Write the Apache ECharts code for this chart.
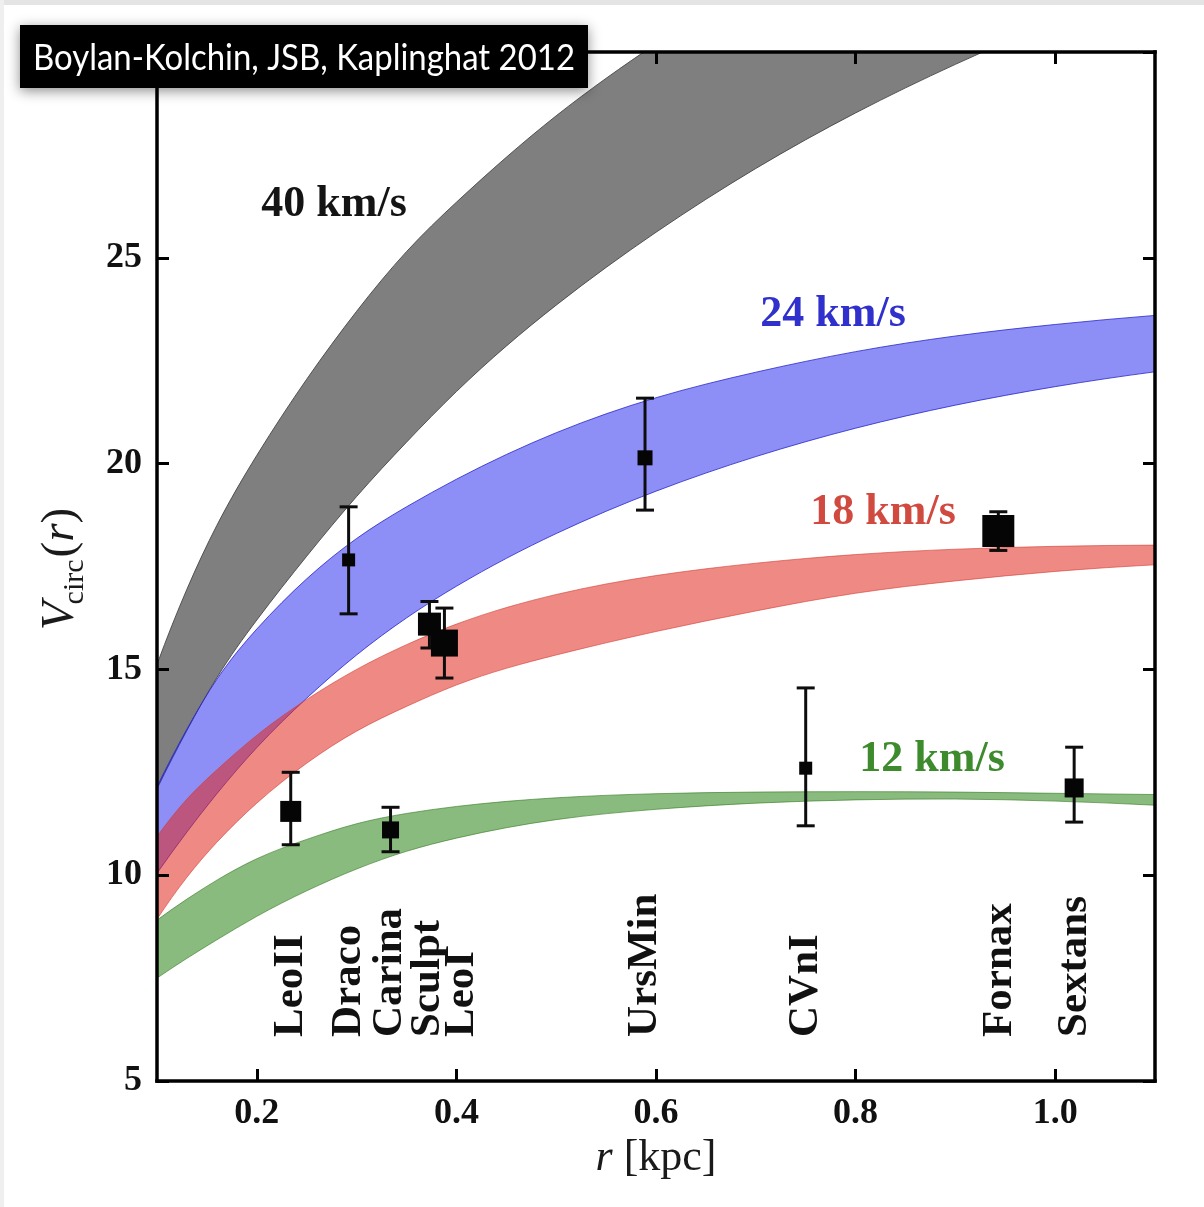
<!DOCTYPE html>
<html>
<head>
<meta charset="utf-8">
<script src="https://cdn.jsdelivr.net/npm/echarts@6/dist/echarts.min.js"></script>
<style>
html, body { margin: 0; padding: 0; background: #ffffff; }
#main { width: 1204px; height: 1207px; }
</style>
</head>
<body>
<div id="main"></div>
<script>
// ---------------------------------------------------------------
// Data
// ---------------------------------------------------------------
// Radii (kpc) at which the edges of each circular-velocity band are given
const radii = [0.10, 0.13, 0.16, 0.20, 0.25, 0.30, 0.35, 0.40, 0.50, 0.60, 0.70, 0.80, 0.90, 1.00, 1.10];

// V_max = 40 km/s band (km/s)
const band40Upper = [15.12, 16.95, 18.5, 20.2, 22.05, 23.7, 25.15, 26.35, 28.45, 30.2, 31.75, 33.1, 34.25, 35.25, 36.15];
const band40Lower = [12.1, 13.52, 14.8, 16.2, 17.75, 19.2, 20.52, 21.75, 23.85, 25.62, 27.17, 28.52, 29.7, 30.75, 31.7];

// V_max = 24 km/s band
const band24Upper = [12.15, 13.55, 14.76, 15.98, 17.2, 18.18, 18.95, 19.62, 20.75, 21.6, 22.22, 22.72, 23.1, 23.38, 23.6];
const band24Lower = [10.05, 11.05, 11.98, 13.1, 14.3, 15.35, 16.25, 17.02, 18.3, 19.33, 20.17, 20.86, 21.42, 21.87, 22.23];

// V_max = 18 km/s band
const band18Upper = [10.94, 11.85, 12.56, 13.4, 14.27, 15.0, 15.6, 16.1, 16.82, 17.28, 17.58, 17.79, 17.92, 17.99, 18.02];
const band18Lower = [8.93, 9.95, 10.8, 11.75, 12.72, 13.5, 14.1, 14.62, 15.35, 15.92, 16.42, 16.85, 17.15, 17.38, 17.54];

// V_max = 12 km/s band
const band12Upper = [8.91, 9.42, 9.88, 10.4, 10.87, 11.25, 11.5, 11.67, 11.88, 11.98, 12.02, 12.03, 12.02, 11.99, 11.96];
const band12Lower = [7.5, 7.98, 8.43, 9.0, 9.62, 10.15, 10.58, 10.9, 11.35, 11.6, 11.75, 11.83, 11.85, 11.8, 11.7];

const bandNames = ['40 km/s', '24 km/s', '18 km/s', '12 km/s'];

// Milky Way dwarf spheroidals: half-light radius (kpc), V_circ and its range (km/s)
const dwarfNames = ['LeoII', 'Draco', 'Carina', 'Sculpt', 'LeoI', 'UrsMin', 'CVnI', 'Fornax', 'Sextans'];
const dwarfR     = [0.234, 0.292, 0.334, 0.373, 0.388, 0.589, 0.750, 0.943, 1.019];
const dwarfV     = [11.55, 17.66, 11.10, 16.10, 15.64, 20.14, 12.60, 18.36, 12.12];
const dwarfLow   = [10.74, 16.35, 10.57, 15.52, 14.79, 18.87, 11.20, 17.89, 11.29];
const dwarfHigh  = [12.50, 18.95, 11.65, 16.65, 16.49, 21.59, 14.55, 18.83, 13.11];

// Tick values
const xTickValues = [0.2, 0.4, 0.6, 0.8, 1.0];
const yTickValues = [5, 10, 15, 20, 25];

// ---------------------------------------------------------------
// Layout and style
// ---------------------------------------------------------------
const SERIF = "'Liberation Serif', 'Times New Roman', 'DejaVu Serif', serif";

const bandStyles = [
  { fill: 'rgba(0,0,0,0.5)',       edge: 'rgba(70,70,70,0.9)' },
  { fill: 'rgba(30,30,240,0.5)',   edge: 'rgba(40,40,200,0.8)' },
  { fill: 'rgba(225,40,30,0.55)',  edge: 'rgba(210,60,50,0.6)' },
  { fill: 'rgba(40,130,20,0.55)',  edge: 'rgba(50,120,30,0.6)' }
];
const bandEdges = [
  [band40Upper, band40Lower],
  [band24Upper, band24Lower],
  [band18Upper, band18Lower],
  [band12Upper, band12Lower]
];
// Where each band's annotation is centred (data coordinates) and its colour
const bandNoteAt = [[0.2774, 26.28], [0.7774, 23.63], [0.8275, 18.82], [0.8766, 12.80]];
const bandNoteColor = ['#141414', '#3030cc', '#d04a40', '#3d8b2d'];

// Marker edge lengths (px) of the data squares
const squareSize = [21, 13, 17, 23, 27, 15, 13, 32, 19];
// Name labels: horizontal anchor (kpc) and the V level where the text starts
const nameAt = [0.2343, 0.2924, 0.3335, 0.3715, 0.4056, 0.589, 0.7503, 0.9447, 1.0198];
const nameBaseV = 6.07;

// ---------------------------------------------------------------
// Helpers
// ---------------------------------------------------------------
// Cubic spline (continuous curvature) through pixel points, written as Bezier segments
function curveThrough(pts) {
  const n = pts.length;
  const h = [], d = [];
  for (let i = 0; i < n - 1; i++) {
    h.push(pts[i + 1][0] - pts[i][0]);
    d.push((pts[i + 1][1] - pts[i][1]) / h[i]);
  }
  const m = new Array(n);
  m[0] = ((2 * h[0] + h[1]) * d[0] - h[0] * d[1]) / (h[0] + h[1]);
  m[n - 1] = ((2 * h[n - 2] + h[n - 3]) * d[n - 2] - h[n - 2] * d[n - 3]) / (h[n - 2] + h[n - 3]);
  const a = [], b = [], c = [], r = [];
  for (let i = 1; i < n - 1; i++) {
    a[i] = h[i];
    b[i] = 2 * (h[i - 1] + h[i]);
    c[i] = h[i - 1];
    r[i] = 3 * (h[i] * d[i - 1] + h[i - 1] * d[i]);
  }
  r[1] -= a[1] * m[0];
  r[n - 2] -= c[n - 2] * m[n - 1];
  for (let i = 2; i < n - 1; i++) {
    const w = a[i] / b[i - 1];
    b[i] -= w * c[i - 1];
    r[i] -= w * r[i - 1];
  }
  m[n - 2] = r[n - 2] / b[n - 2];
  for (let i = n - 3; i >= 1; i--) m[i] = (r[i] - c[i] * m[i + 1]) / b[i];

  let s = '';
  for (let i = 0; i < n - 1; i++) {
    const t = h[i] / 3;
    const c1x = pts[i][0] + t, c1y = pts[i][1] + m[i] * t;
    const c2x = pts[i + 1][0] - t, c2y = pts[i + 1][1] - m[i + 1] * t;
    s += ' C' + c1x.toFixed(2) + ' ' + c1y.toFixed(2) + ' ' + c2x.toFixed(2) + ' ' + c2y.toFixed(2) +
         ' ' + pts[i + 1][0].toFixed(2) + ' ' + pts[i + 1][1].toFixed(2);
  }
  return s;
}

// ---------------------------------------------------------------
// Series
// ---------------------------------------------------------------
const series = [];

// Shaded V_max bands: region between the upper and lower edge curves
series.push({
  type: 'custom',
  name: 'bands',
  clip: true,
  silent: true,
  z: 2,
  data: bandNames.map(function (n, k) { return [radii[0], bandEdges[k][1][0]]; }),
  renderItem: function (params, api) {
    const k = params.dataIndex;
    const up = radii.map(function (r, i) { return api.coord([r, bandEdges[k][0][i]]); });
    const lo = radii.map(function (r, i) { return api.coord([r, bandEdges[k][1][i]]); }).reverse();
    const d = 'M' + up[0][0].toFixed(2) + ' ' + up[0][1].toFixed(2) + curveThrough(up) +
              ' L' + lo[0][0].toFixed(2) + ' ' + lo[0][1].toFixed(2) + curveThrough(lo) + ' Z';
    return {
      type: 'path',
      shape: { pathData: d },
      style: { fill: bandStyles[k].fill, stroke: bandStyles[k].edge, lineWidth: 1 }
    };
  }
});

// Error bars
series.push({
  type: 'custom',
  name: 'range',
  data: dwarfR.map(function (r, i) { return [r, dwarfLow[i], dwarfHigh[i]]; }),
  encode: { x: 0, y: [1, 2] },
  z: 5,
  silent: true,
  renderItem: function (params, api) {
    const x = api.value(0);
    const lo = api.coord([x, api.value(1)]);
    const hi = api.coord([x, api.value(2)]);
    const cap = 9;
    const s = { stroke: '#0d0d0d', lineWidth: 3 };
    return {
      type: 'group',
      children: [
        { type: 'line', shape: { x1: lo[0], y1: lo[1], x2: hi[0], y2: hi[1] }, style: s },
        { type: 'line', shape: { x1: lo[0] - cap, y1: lo[1], x2: lo[0] + cap, y2: lo[1] }, style: s },
        { type: 'line', shape: { x1: hi[0] - cap, y1: hi[1], x2: hi[0] + cap, y2: hi[1] }, style: s }
      ]
    };
  }
});

// Data squares
series.push({
  type: 'scatter',
  name: 'dwarfs',
  data: dwarfR.map(function (r, i) { return [r, dwarfV[i]]; }),
  symbol: 'rect',
  symbolSize: function (val, p) { return squareSize[p.dataIndex]; },
  itemStyle: { color: '#050505', opacity: 1 },
  silent: true,
  z: 6
});

// Dwarf names, written vertically
series.push({
  type: 'custom',
  name: 'names',
  data: dwarfNames.map(function (n, i) { return [nameAt[i], nameBaseV]; }),
  z: 6,
  silent: true,
  renderItem: function (params, api) {
    const p = api.coord([api.value(0), api.value(1)]);
    return {
      type: 'text',
      x: p[0],
      y: p[1],
      rotation: Math.PI / 2,
      style: {
        text: dwarfNames[params.dataIndex],
        font: 'bold 43px ' + SERIF,
        fill: '#111111',
        align: 'left',
        verticalAlign: 'middle'
      }
    };
  }
});

// Band annotations
series.push({
  type: 'custom',
  name: 'band notes',
  data: bandNoteAt.map(function (a) { return [a[0], a[1]]; }),
  z: 6,
  silent: true,
  renderItem: function (params, api) {
    const p = api.coord([api.value(0), api.value(1)]);
    return {
      type: 'text',
      x: p[0],
      y: p[1],
      style: {
        text: bandNames[params.dataIndex],
        font: 'bold 44px ' + SERIF,
        fill: bandNoteColor[params.dataIndex],
        align: 'center',
        verticalAlign: 'middle'
      }
    };
  }
});

// ---------------------------------------------------------------
// Axes
// ---------------------------------------------------------------
const frameLine = { color: '#000000', width: 3.5, cap: 'square' };
const tickStyle = { color: '#000000', width: 3 };
const tickLabel = { fontFamily: SERIF, fontWeight: 'bold', fontSize: 36, color: '#111111' };

function xAxisDef(pos, withLabels) {
  return {
    type: 'value', min: 0.1, max: 1.1, position: pos, z: 10,
    axisLine: { show: true, onZero: false, lineStyle: frameLine },
    axisTick: { show: true, inside: true, length: 12, lineStyle: tickStyle, customValues: xTickValues },
    axisLabel: Object.assign({
      show: withLabels, customValues: xTickValues, margin: 15,
      formatter: function (v) { return v.toFixed(1); }
    }, tickLabel),
    splitLine: { show: false }
  };
}
function yAxisDef(pos, withLabels) {
  return {
    type: 'value', min: 5, max: 30, interval: 5, position: pos, z: 10,
    axisLine: { show: true, onZero: false, lineStyle: frameLine },
    axisTick: { show: true, inside: true, length: 12, lineStyle: tickStyle },
    axisLabel: Object.assign({ show: withLabels, customValues: yTickValues, margin: 15 }, tickLabel),
    splitLine: { show: false }
  };
}

const xBottom = xAxisDef('bottom', true);
xBottom.name = '{i|r} [kpc]';
xBottom.nameLocation = 'middle';
xBottom.nameGap = 53;
xBottom.nameTextStyle = {
  fontFamily: SERIF, fontSize: 44, color: '#1a1a1a', verticalAlign: 'top',
  rich: { i: { fontFamily: SERIF, fontSize: 44, fontStyle: 'italic', color: '#1a1a1a' } }
};

// ---------------------------------------------------------------
// Rotated y-axis title: V_circ(r)
// ---------------------------------------------------------------
function yTitle() {
  const ctx = document.createElement('canvas').getContext('2d');
  const big = 47, small = 30;
  const fI = 'italic ' + big + 'px ' + SERIF;
  const fR = big + 'px ' + SERIF;
  const fS = small + 'px ' + SERIF;
  ctx.font = fI; const wV = ctx.measureText('V').width; const wr = ctx.measureText('r').width;
  ctx.font = fS; const wS = ctx.measureText('circ').width;
  ctx.font = fR; const wO = ctx.measureText('(').width; const wC = ctx.measureText(')').width;
  const parts = [
    { t: 'V', f: fI, w: wV, dy: -0.33 * big, gap: -3 },
    { t: 'circ', f: fS, w: wS, dy: -0.33 * small + 9, gap: 2 },
    { t: '(', f: fR, w: wO, dy: -0.33 * big, gap: 0 },
    { t: 'r', f: fI, w: wr, dy: -0.33 * big, gap: 0 },
    { t: ')', f: fR, w: wC, dy: -0.33 * big, gap: 0 }
  ];
  let x = 0;
  const children = parts.map(function (p) {
    const el = {
      type: 'text', x: x, y: p.dy,
      style: { text: p.t, font: p.f, fill: '#1a1a1a', align: 'left', verticalAlign: 'middle' }
    };
    x += p.w + p.gap;
    return el;
  });
  const total = x;
  return {
    type: 'group', x: 76, y: 569 + total / 2, rotation: Math.PI / 2, z: 20,
    children: children
  };
}

// ---------------------------------------------------------------
// Credit box
// ---------------------------------------------------------------
function creditBox() {
  const txt = 'Boylan-Kolchin, JSB, Kaplinghat 2012';
  const font = '37px Lato, "Open Sans", sans-serif';
  const ctx = document.createElement('canvas').getContext('2d');
  ctx.font = font;
  const w = ctx.measureText(txt).width;
  const sx = Math.min(1, 542 / w);
  return [
    {
      type: 'rect', z: 100,
      shape: { x: 20, y: 25, width: 568, height: 63 },
      style: { fill: '#000000', shadowBlur: 12, shadowColor: 'rgba(0,0,0,0.45)', shadowOffsetX: 0, shadowOffsetY: 3 }
    },
    {
      type: 'text', z: 101, x: 304, y: 58, scaleX: sx,
      style: { text: txt, font: font, fill: '#ffffff', align: 'center', verticalAlign: 'middle' }
    }
  ];
}

const chart = echarts.init(document.getElementById('main'), null, { renderer: 'canvas' });
chart.setOption({
  animation: false,
  backgroundColor: '#ffffff',
  grid: { left: 157, right: 49, top: 52, bottom: 126, containLabel: false, outerBoundsMode: 'none' },
  xAxis: [xBottom, xAxisDef('top', false)],
  yAxis: [yAxisDef('left', true), yAxisDef('right', false)],
  series: series,
  graphic: [
    { type: 'rect', z: 0, silent: true, shape: { x: 0, y: 0, width: 1204, height: 5 }, style: { fill: '#e4e4e4' } },
    { type: 'rect', z: 0, silent: true, shape: { x: 0, y: 0, width: 4, height: 1207 }, style: { fill: '#efefef' } },
    yTitle()
  ].concat(creditBox())
});
</script>
</body>
</html>
